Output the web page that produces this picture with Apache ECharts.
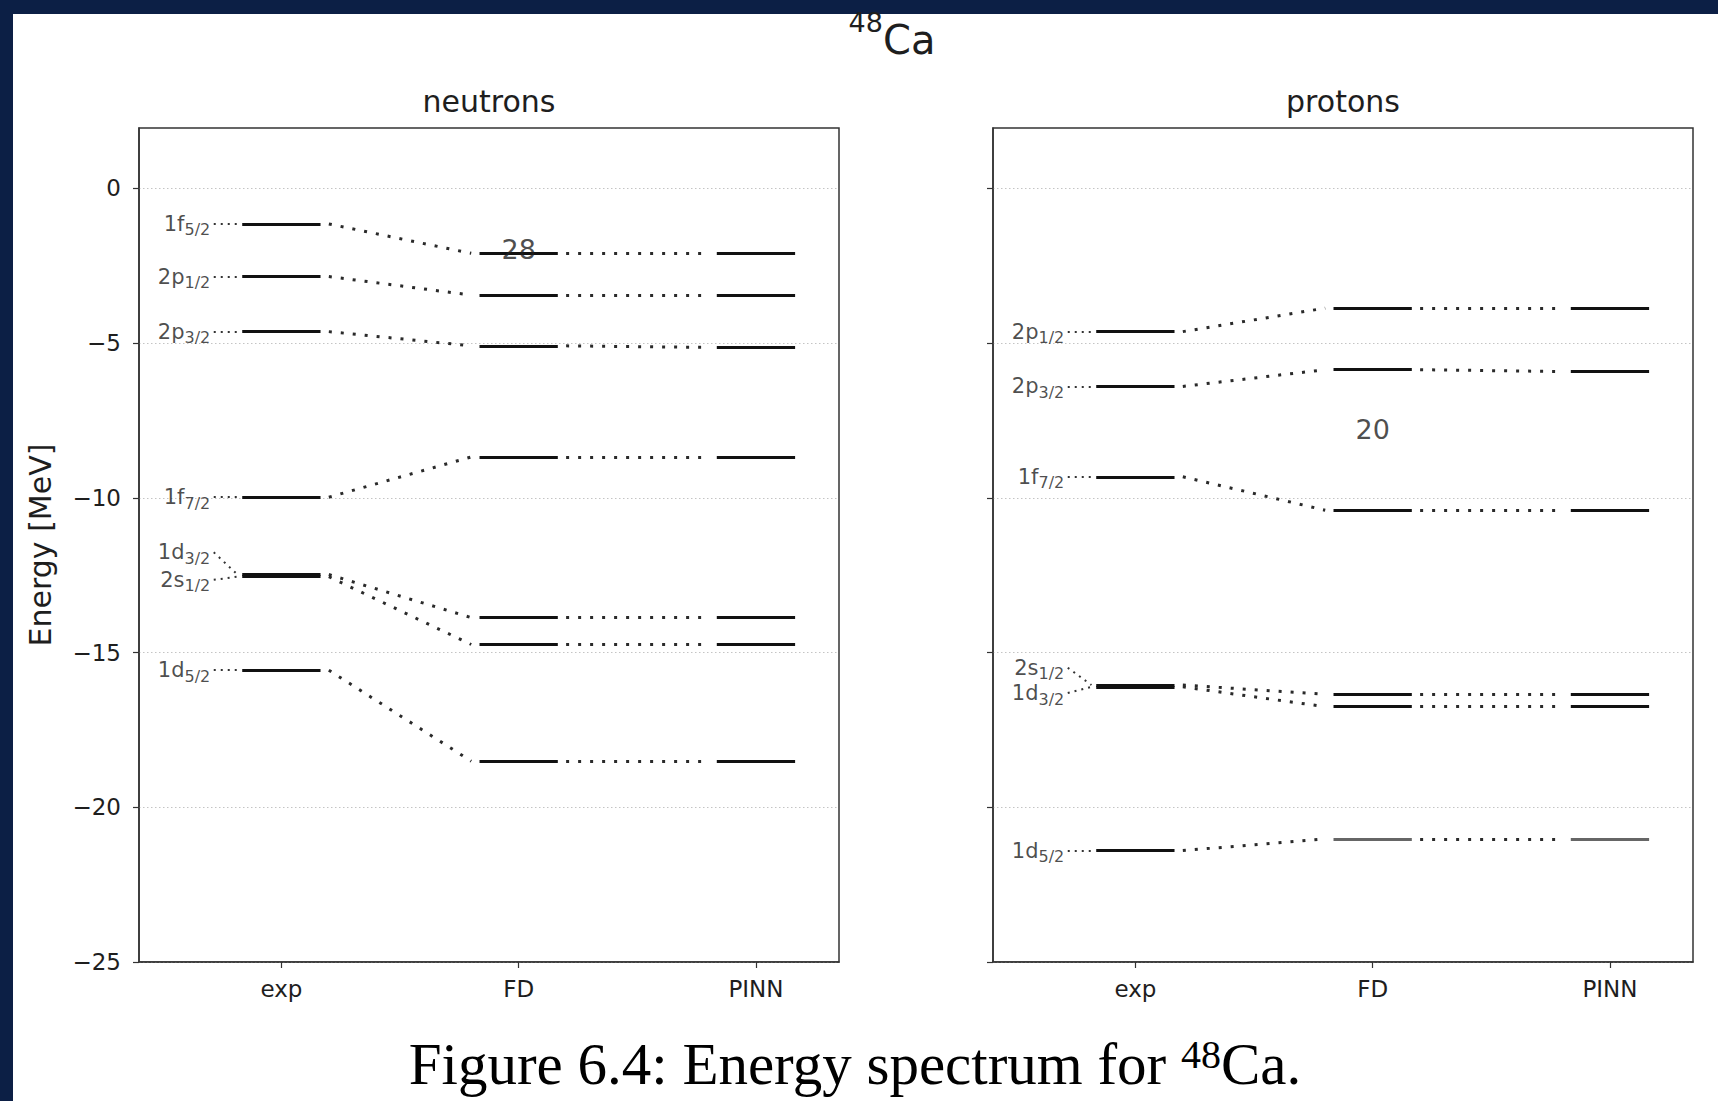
<!DOCTYPE html>
<html><head><meta charset="utf-8">
<script src="https://cdn.jsdelivr.net/npm/echarts@6.0.0/dist/echarts.min.js"></script>
<style>
html,body{margin:0;padding:0;width:1718px;height:1101px;overflow:hidden;background:#0c1f45;}
#paper{position:absolute;left:13px;top:14px;width:1705px;height:1087px;background:#fff;}
#chart{position:absolute;left:0;top:0;width:1718px;height:1101px;}
</style></head><body><div id="paper"></div><div id="chart"></div>
<script>
// ---------------- data ----------------
const methods = ['exp', 'FD', 'PINN'];
const yTickValues = [0, -5, -10, -15, -20, -25];

const neutronOrbitals = ['1f5/2', '2p1/2', '2p3/2', '1f7/2', '1d3/2', '2s1/2', '1d5/2'];
const neutronExp  = [-1.15, -2.85, -4.63, -9.98, -12.48, -12.55, -15.57];
const neutronFD   = [-2.10, -3.45, -5.09, -8.68, -13.87, -14.74, -18.51];
const neutronPINN = [-2.10, -3.45, -5.14, -8.68, -13.87, -14.74, -18.51];

const protonOrbitals = ['2p1/2', '2p3/2', '1f7/2', '2s1/2', '1d3/2', '1d5/2'];
const protonExp  = [-4.63, -6.40, -9.32, -16.05, -16.11, -21.40];
const protonFD   = [-3.87, -5.86, -10.40, -16.35, -16.75, -21.02];
const protonPINN = [-3.87, -5.92, -10.40, -16.35, -16.75, -21.02];

const neutronGapLabel = '28';
const neutronGapEnergy = -1.98;
const protonGapLabel = '20';
const protonGapEnergy = -7.8;

// ---------------- layout / style ----------------
const HW = 0.165;        // half width of a level bar (x units)
const GAP = 0.035;       // gap between bar end and connector
const STUB_X = -0.285;   // label stub start
const STUB_END = -0.185; // label stub end
const neutronLabelNudge = [0, 0, 0, 0, 0.72, -0.1, 0];
const protonLabelNudge = [0, 0, 0, 0.56, -0.2, 0];
const neutronFitColor = ['#111', '#111', '#111', '#111', '#111', '#111', '#111'];
const protonFitColor = ['#111', '#111', '#111', '#111', '#111', '#666'];

const TXT = '#1e1e1e';
const FONT = 'DejaVu Sans';

function panelSeries(g, orbitals, exp, fd, pinn, nudge, fitColor, gapLabel, gapEnergy) {
  const bars = [], conns = [], stubs = [], labels = [];
  orbitals.forEach((name, i) => {
    const vals = [exp[i], fd[i], pinn[i]];
    vals.forEach((v, m) => {
      bars.push({ coords: [[m - HW, v], [m + HW, v]],
        lineStyle: { color: m === 0 ? '#111' : fitColor[i] } });
    });
    conns.push({ coords: [[HW + GAP, exp[i]], [1 - HW - GAP, fd[i]]] });
    conns.push({ coords: [[1 + HW + GAP, fd[i]], [2 - HW - GAP, pinn[i]]] });
    stubs.push({ coords: [[STUB_X, exp[i] + nudge[i]], [STUB_END, exp[i]]] });
    labels.push({ value: [STUB_X, exp[i] + nudge[i]], name: name });
  });
  return [
    { type: 'lines', coordinateSystem: 'cartesian2d', xAxisIndex: g, yAxisIndex: g,
      silent: true, z: 4, lineStyle: { width: 3, type: 'solid', opacity: 1 }, data: bars },
    { type: 'lines', coordinateSystem: 'cartesian2d', xAxisIndex: g, yAxisIndex: g,
      silent: true, z: 3, lineStyle: { width: 3, color: '#2a2a2a', type: [3, 9], opacity: 1 }, data: conns },
    { type: 'lines', coordinateSystem: 'cartesian2d', xAxisIndex: g, yAxisIndex: g,
      silent: true, z: 3, lineStyle: { width: 2, color: '#333', type: [2, 5], opacity: 1 }, data: stubs },
    { type: 'scatter', xAxisIndex: g, yAxisIndex: g, silent: true, symbolSize: 1,
      itemStyle: { color: 'rgba(0,0,0,0)' }, data: labels,
      label: { show: true, position: 'left', distance: 3,
        formatter: p => '{m|' + p.name.slice(0, 2) + '}{s|' + p.name.slice(2) + '}',
        rich: {
          m: { fontFamily: FONT, fontSize: 21, lineHeight: 28, color: TXT },
          s: { fontFamily: FONT, fontSize: 16, lineHeight: 16, verticalAlign: 'bottom', color: TXT }
        } } },
    { type: 'scatter', xAxisIndex: g, yAxisIndex: g, silent: true, symbolSize: 1, z: 6,
      itemStyle: { color: 'rgba(0,0,0,0)' }, data: [{ value: [1, gapEnergy], name: gapLabel }],
      label: { show: true, position: 'inside', formatter: '{b}',
        fontFamily: FONT, fontSize: 27, color: TXT } }
  ];
}

function xAxisCfg(g) {
  return { type: 'value', gridIndex: g, min: -0.6, max: 2.35,
    axisLine: { show: true, onZero: false, lineStyle: { color: '#333', width: 1.5 } },
    axisTick: { show: true, length: 6, customValues: [0, 1, 2], lineStyle: { color: '#333', width: 1.2 } },
    axisLabel: { show: true, customValues: [0, 1, 2], margin: 15,
      formatter: v => methods[Math.round(v)], fontFamily: FONT, fontSize: 23, color: TXT },
    splitLine: { show: false } };
}
function yAxisCfg(g, showLabels) {
  const cfg = { type: 'value', gridIndex: g, min: -25, max: 1.95,
    axisLine: { show: true, onZero: false, lineStyle: { color: '#333', width: 1.5 } },
    axisTick: { show: true, length: 6, customValues: yTickValues, lineStyle: { color: '#333', width: 1.2 } },
    axisLabel: { show: showLabels, customValues: yTickValues, margin: 18,
      formatter: v => (v < 0 ? '\u2212' + Math.abs(v) : String(v)),
      fontFamily: FONT, fontSize: 23, color: TXT },
    splitLine: { show: true, lineStyle: { color: '#c4c4c4', width: 1, type: [1.5, 2.5] } } };
  if (showLabels) {
    Object.assign(cfg, { name: 'Energy [MeV]', nameLocation: 'middle', nameGap: 84,
      nameTextStyle: { fontFamily: FONT, fontSize: 30, color: TXT } });
  }
  return cfg;
}

const chart = echarts.init(document.getElementById('chart'), null, { renderer: 'svg' });
chart.setOption({
  animation: false,
  backgroundColor: 'transparent',
  grid: [
    { left: 139, top: 128, width: 700, height: 834, show: true, borderColor: '#333', borderWidth: 1.5, backgroundColor: 'transparent' },
    { left: 993, top: 128, width: 700, height: 834, show: true, borderColor: '#333', borderWidth: 1.5, backgroundColor: 'transparent' }
  ],
  xAxis: [xAxisCfg(0), xAxisCfg(1)],
  yAxis: [yAxisCfg(0, true), yAxisCfg(1, false)],
  graphic: [
    { type: 'text', x: 892, y: 40, silent: true, style: {
      text: '{sup|48}{m|Ca}', align: 'center', verticalAlign: 'middle',
      textAlign: 'center', textVerticalAlign: 'middle',
      rich: { sup: { fontFamily: FONT, fontSize: 27, lineHeight: 27, verticalAlign: 'top', fill: TXT, color: TXT },
              m: { fontFamily: FONT, fontSize: 40, lineHeight: 62, fill: TXT, color: TXT } } } },
    { type: 'text', x: 489, y: 101, silent: true, style: {
      text: 'neutrons', font: '30px "DejaVu Sans"', fill: TXT,
      align: 'center', verticalAlign: 'middle', textAlign: 'center', textVerticalAlign: 'middle' } },
    { type: 'text', x: 1343, y: 101, silent: true, style: {
      text: 'protons', font: '30px "DejaVu Sans"', fill: TXT,
      align: 'center', verticalAlign: 'middle', textAlign: 'center', textVerticalAlign: 'middle' } },
    { type: 'text', x: 855, y: 1064, silent: true, style: {
      text: '{t|Figure 6.4: Energy spectrum for }{sup|48}{t|Ca.}', align: 'center', verticalAlign: 'middle',
      textAlign: 'center', textVerticalAlign: 'middle',
      rich: { t: { fontFamily: 'Liberation Serif', fontSize: 59, lineHeight: 60, fill: '#000', color: '#000' },
              sup: { fontFamily: 'Liberation Serif', fontSize: 40, lineHeight: 20, verticalAlign: 'top', fill: '#000', color: '#000' } } } }
  ],
  series: [
    ...panelSeries(0, neutronOrbitals, neutronExp, neutronFD, neutronPINN, neutronLabelNudge, neutronFitColor, neutronGapLabel, neutronGapEnergy),
    ...panelSeries(1, protonOrbitals, protonExp, protonFD, protonPINN, protonLabelNudge, protonFitColor, protonGapLabel, protonGapEnergy)
  ]
});
</script></body></html>
